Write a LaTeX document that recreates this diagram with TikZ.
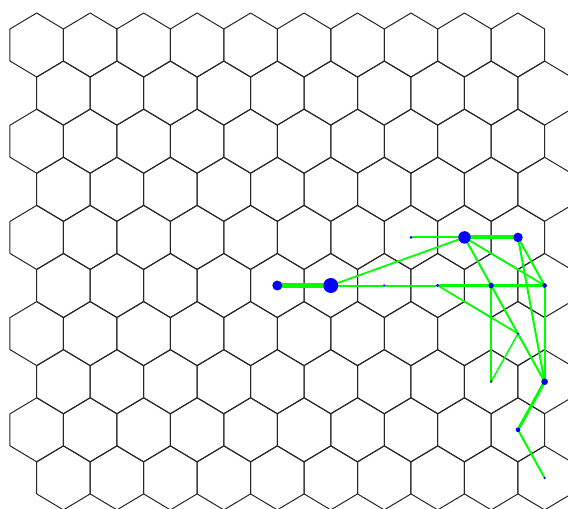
\documentclass[tikz,border=0pt]{standalone}
\usetikzlibrary{backgrounds}

\begin{document}
\begin{tikzpicture}[
  x=1pt, y=-1pt,
  cell/.style={draw=black!85, line width=1pt, line join=round},
  site/.style={circle, fill=blue, inner sep=0pt, minimum size=#1},
  link/.style={draw=green, line width=#1, line cap=round},
]
  \useasboundingbox (0,0) rectangle (568,509);
  \clip (0,0) rectangle (568,509);

  % ===== Occupied cells =====
  \node[site=3pt]    (r4c7) at (411.0, 237.4) {};
  \node[site=12.5pt] (r4c8) at (464.5, 237.4) {};
  \node[site=9.5pt]  (r4c9) at (518.0, 237.4) {};

  \node[site=10pt]   (r5c4) at (277.3, 285.5) {};
  \node[site=15pt]   (r5c5) at (330.8, 285.5) {};
  \node[site=2.5pt]  (r5c6) at (384.2, 285.5) {};
  \node[site=3.5pt]  (r5c7) at (437.7, 285.5) {};
  \node[site=5.5pt]  (r5c8) at (491.2, 285.5) {};
  \node[site=4.7pt]  (r5c9) at (544.6, 285.5) {};

  \node[site=2.6pt]  (r6c9) at (518.0, 333.6) {};
  \node[site=2.6pt]  (r7c8) at (491.2, 381.7) {};
  \node[site=6.7pt]  (r7c9) at (544.6, 381.7) {};
  \node[site=4.7pt]  (r8c9) at (518.0, 429.8) {};
  \node[site=2.6pt]  (r9c9) at (544.6, 477.9) {};

  \begin{pgfonlayer}{background}
    % ===== Hexagonal grid =====
    \foreach \r in {0,...,9}
      \foreach \j in {0,...,9} {
        \pgfmathsetmacro\cx{36.7+53.47*\j+26.73*mod(\r,2)}
        \pgfmathsetmacro\cy{45+48.1*\r}
        \draw[cell] (\cx,\cy) +(0,-32) -- +(26.73,-16) -- +(26.73,16)
          -- +(0,32) -- +(-26.73,16) -- +(-26.73,-16) -- cycle;
      }

    % ===== Links =====
    \draw[link=5pt]   (r5c4) -- (r5c5);
    \draw[link=4pt]   (r4c8) -- (r4c9);
    \draw[link=2pt]   (r4c7) -- (r4c8);
    \draw[link=1.8pt] (r5c5) -- (r4c8);
    \draw[link=2pt]   (r5c5) -- (r5c6);
    \draw[link=2pt]   (r5c6) -- (r5c7);
    \draw[link=2.3pt] (r5c7) -- (r5c8);
    \draw[link=2.3pt] (r5c8) -- (r5c9);
    \draw[link=1.8pt] (r4c8) -- (r5c9);
    \draw[link=2pt]   (r4c8) -- (r7c9);
    \draw[link=2pt]   (r4c9) -- (r5c9);
    \draw[link=2pt]   (r4c9) -- (r7c9);
    \draw[link=1.8pt] (r5c9) -- (r7c9);
    \draw[link=1.8pt] (r5c8) -- (r7c8);
    \draw[link=1.7pt] (r5c7) -- (r6c9);
    \draw[link=1.5pt] (r6c9) -- (r7c8);
    \draw[link=3pt]   (r7c9) -- (r8c9);
    \draw[link=2pt]   (r8c9) -- (r9c9);
  \end{pgfonlayer}
\end{tikzpicture}
\end{document}
